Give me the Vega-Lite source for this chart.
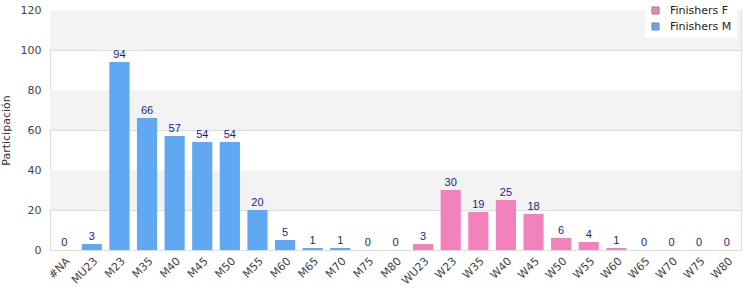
{
  "$schema": "https://vega.github.io/schema/vega-lite/v6.json",
  "autosize": "none",
  "width": 691,
  "height": 240,
  "padding": {"left": 50, "top": 10, "right": 9, "bottom": 50},
  "background": "white",
  "config": {"view": {"stroke": "#dddddd"}, "font": "DejaVu Sans"},
  "datasets": {
    "bars": [
      {"cat": "#NA", "v": 0, "serie": "Finishers M"},
      {"cat": "MU23", "v": 3, "serie": "Finishers M"},
      {"cat": "M23", "v": 94, "serie": "Finishers M"},
      {"cat": "M35", "v": 66, "serie": "Finishers M"},
      {"cat": "M40", "v": 57, "serie": "Finishers M"},
      {"cat": "M45", "v": 54, "serie": "Finishers M"},
      {"cat": "M50", "v": 54, "serie": "Finishers M"},
      {"cat": "M55", "v": 20, "serie": "Finishers M"},
      {"cat": "M60", "v": 5, "serie": "Finishers M"},
      {"cat": "M65", "v": 1, "serie": "Finishers M"},
      {"cat": "M70", "v": 1, "serie": "Finishers M"},
      {"cat": "M75", "v": 0, "serie": "Finishers M"},
      {"cat": "M80", "v": 0, "serie": "Finishers M"},
      {"cat": "WU23", "v": 3, "serie": "Finishers F"},
      {"cat": "W23", "v": 30, "serie": "Finishers F"},
      {"cat": "W35", "v": 19, "serie": "Finishers F"},
      {"cat": "W40", "v": 25, "serie": "Finishers F"},
      {"cat": "W45", "v": 18, "serie": "Finishers F"},
      {"cat": "W50", "v": 6, "serie": "Finishers F"},
      {"cat": "W55", "v": 4, "serie": "Finishers F"},
      {"cat": "W60", "v": 1, "serie": "Finishers F"},
      {"cat": "W65", "v": 0, "serie": "Finishers F"},
      {"cat": "W70", "v": 0, "serie": "Finishers F"},
      {"cat": "W75", "v": 0, "serie": "Finishers F"},
      {"cat": "W80", "v": 0, "serie": "Finishers F"}
    ],
    "bands": [
      {"lo": 20, "hi": 40},
      {"lo": 60, "hi": 80},
      {"lo": 100, "hi": 120}
    ]
  },
  "layer": [
    {
      "data": {"name": "bands"},
      "mark": {"type": "rect", "color": "#f3f3f3"},
      "encoding": {
        "y": {"field": "lo", "type": "quantitative", "scale": {"domain": [0, 120]},
          "axis": {"title": "Participación", "titleFontSize": 11, "titleFontWeight": "normal", "titleColor": "#333333",
                   "values": [0, 20, 40, 60, 80, 100, 120], "labelOverlap": false, "labelFontSize": 11, "labelColor": "#444444",
                   "ticks": false, "domain": false, "gridColor": "#dddddd", "labelPadding": 9, "titlePadding": 9}},
        "y2": {"field": "hi"}
      }
    },
    {
      "data": {"name": "bars"},
      "layer": [
        {
          "mark": {"type": "bar"},
          "encoding": {
            "color": {
              "field": "serie", "type": "nominal",
              "scale": {"domain": ["Finishers F", "Finishers M"], "range": ["#f282bb", "#60a8f2"]},
              "legend": {
                "title": null, "orient": "none", "legendX": 595, "legendY": -10,
                "fillColor": "white", "padding": 5, "symbolType": "square",
                "symbolStrokeColor": "#888888", "symbolStrokeWidth": 1, "symbolSize": 50,
                "labelFontSize": 11, "labelColor": "#222222", "rowPadding": 3, "labelOffset": 9
              }
            }
          }
        },
        {
          "mark": {"type": "text", "dy": -7, "fontSize": 11, "font": "Liberation Sans", "color": "#1a1a8c"},
          "encoding": {"text": {"field": "v", "type": "quantitative"}}
        }
      ],
      "encoding": {
        "x": {
          "field": "cat", "type": "nominal", "sort": null,
          "scale": {"paddingInner": 0.27, "paddingOuter": 0.15},
          "axis": {"title": null, "labelAngle": -45, "labelAlign": "right", "labelBaseline": "top",
                   "labelFontSize": 11, "labelColor": "#444444", "ticks": false, "domainColor": "#dddddd", "labelPadding": 5, "labelOverlap": false}
        },
        "y": {
          "field": "v", "type": "quantitative", "scale": {"domain": [0, 120]},
          "axis": {"title": "Participación", "titleFontSize": 11, "titleFontWeight": "normal", "titleColor": "#333333",
                   "values": [0, 20, 40, 60, 80, 100, 120], "labelOverlap": false, "labelFontSize": 11, "labelColor": "#444444",
                   "ticks": false, "domain": false, "gridColor": "#dddddd", "labelPadding": 9, "titlePadding": 9}
        }
      }
    }
  ]
}
